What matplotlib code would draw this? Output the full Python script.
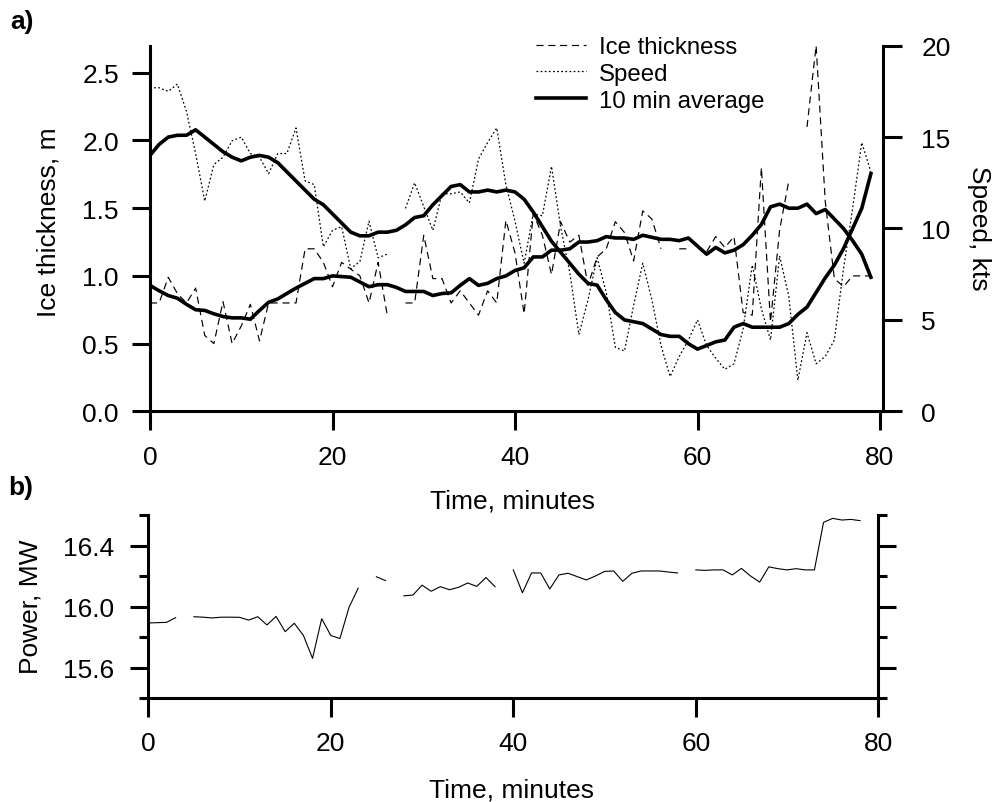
import numpy as np
import matplotlib
matplotlib.use("Agg")
import matplotlib.pyplot as plt
from matplotlib.lines import Line2D

plt.rcParams['font.family'] = ['Liberation Sans', 'DejaVu Sans']

nan = np.nan

# minutes for the ice / speed records and for the power record
minutes = np.arange(80)
minutes_power = np.arange(79)

# raw ice thickness, m (gaps are missing samples)
ice_thickness = [
    0.80, 0.80, 0.99, 0.87, 0.80, 0.91, 0.56, 0.50, 0.81, 0.50,
    0.63, 0.79, 0.52, 0.80, 0.80, 0.80, 0.80, 1.20, 1.20, 1.10,
    0.92, 1.10, 1.05, 1.00, 0.80, 1.10, 0.71, nan, 0.80, 0.80,
    1.30, 0.98, 0.98, 0.80, 0.89, 0.80, 0.71, 0.89, 0.80, 1.41,
    1.17, 0.72, 1.46, 1.30, 1.01, 1.40, 1.25, 1.30, 0.93, 1.14,
    1.20, 1.40, 1.32, 1.11, 1.48, 1.42, 1.20, nan, 1.20, 1.20,
    nan, 1.18, 1.29, 1.21, 1.29, 0.73, 0.71, 1.80, 0.66, 1.34,
    1.70, nan, 2.10, 2.70, 1.55, 0.98, 0.92, 1.00, 1.00, 1.00]

# raw ship speed, kts
speed = [
    17.7, 17.7, 17.5, 17.9, 16.4, 14.1, 11.5, 13.5, 13.9, 14.8,
    15.0, 14.1, 13.9, 13.0, 14.1, 14.1, 15.5, 12.6, 12.4, 9.0,
    9.9, 10.1, 7.8, 8.2, 10.4, 8.4, 8.6, nan, 11.1, 12.5,
    11.2, 9.9, 11.9, 11.9, 12.0, 11.4, 13.8, 14.7, 15.5, 12.4,
    10.4, 8.1, 10.8, 10.7, 13.4, 10.1, 7.6, 4.2, 6.1, 8.4,
    6.5, 3.5, 3.3, 5.8, 8.1, 6.1, 3.6, 1.9, 3.0, 3.9,
    5.0, 3.6, 2.9, 2.3, 2.6, 4.5, 8.0, 5.6, 3.9, 8.5,
    6.3, 1.7, 4.3, 2.6, 3.0, 3.9, 7.8, 11.1, 14.7, 13.1]

# 10 min averages
ice_avg = [
    0.93, 0.89, 0.855, 0.835, 0.79, 0.75, 0.745, 0.72, 0.70, 0.69,
    0.69, 0.68, 0.745, 0.805, 0.83, 0.87, 0.91, 0.945, 0.98, 0.98,
    1.00, 0.995, 0.99, 0.955, 0.92, 0.935, 0.935, 0.915, 0.885, 0.885,
    0.885, 0.855, 0.87, 0.875, 0.93, 0.98, 0.93, 0.945, 0.98, 1.00,
    1.04, 1.06, 1.14, 1.14, 1.19, 1.19, 1.20, 1.25, 1.25, 1.26,
    1.29, 1.28, 1.28, 1.27, 1.30, 1.285, 1.27, 1.27, 1.26, 1.28,
    1.22, 1.16, 1.21, 1.17, 1.19, 1.23, 1.30, 1.38, 1.51, 1.53,
    1.50, 1.50, 1.53, 1.46, 1.49, 1.42, 1.35, 1.26, 1.16, 0.99]

speed_avg = [
    14.0, 14.6, 15.0, 15.1, 15.1, 15.4, 15.0, 14.6, 14.2, 13.9,
    13.7, 13.9, 14.0, 13.9, 13.6, 13.1, 12.6, 12.1, 11.6, 11.3,
    10.8, 10.3, 9.8, 9.6, 9.6, 9.8, 9.8, 9.9, 10.2, 10.6,
    10.7, 11.3, 11.8, 12.3, 12.4, 12.0, 12.0, 12.1, 12.0, 12.1,
    12.0, 11.6, 10.9, 10.1, 9.3, 8.7, 8.1, 7.5, 7.0, 6.9,
    6.1, 5.4, 5.0, 4.9, 4.8, 4.5, 4.2, 4.1, 4.1, 3.7,
    3.4, 3.6, 3.8, 3.9, 4.6, 4.8, 4.6, 4.6, 4.6, 4.6,
    4.8, 5.3, 5.7, 6.5, 7.3, 8.0, 8.9, 10.0, 11.1, 13.0]

# propulsion power, MW
power = [
    15.892, 15.894, 15.896, 15.927, nan, 15.933, 15.930, 15.925, 15.930, 15.930,
    15.929, 15.911, 15.933, 15.879, 15.935, 15.835, 15.890, 15.810, 15.660, 15.920,
    15.810, 15.790, 15.995, 16.120, nan, 16.195, 16.170, nan, 16.070, 16.075,
    16.140, 16.100, 16.130, 16.110, 16.126, 16.154, 16.132, 16.190, 16.130, nan,
    16.240, 16.090, 16.220, 16.220, 16.115, 16.207, 16.218, 16.196, 16.174, 16.200,
    16.230, 16.233, 16.165, 16.218, 16.233, 16.233, 16.233, 16.226, 16.220, nan,
    16.240, 16.237, 16.240, 16.240, 16.207, 16.250, 16.200, 16.160, 16.260, 16.248,
    16.240, 16.248, 16.240, 16.240, 16.552, 16.578, 16.567, 16.571, 16.563]

time_ticks = [0, 20, 40, 60, 80]
ice_ticks = [0.0, 0.5, 1.0, 1.5, 2.0, 2.5]
speed_ticks = [0, 5, 10, 15, 20]
power_major = [15.6, 16.0, 16.4]
power_minor = [15.4, 15.8, 16.2, 16.6]

FS = 19
SPW = 2.2
dash_ice = (0, (6, 4))
dot_speed = (0, (1.4, 1.9))

fig = plt.figure(figsize=(9.99, 8.03), dpi=100)

# ---- panel a ----
ax1 = fig.add_axes([150 / 999, 1 - 412.3 / 803, 733 / 999, 365.6 / 803])
ax2 = ax1.twinx()

ax1.plot(minutes, ice_thickness, color='black', lw=0.85, linestyle=dash_ice)
ax1.plot(minutes, ice_avg, color='black', lw=2.6)
ax2.plot(minutes, speed, color='black', lw=0.9, linestyle=dot_speed)
ax2.plot(minutes, speed_avg, color='black', lw=2.6)

ax1.set_xlim(0, 80 * 733 / 730)
ax1.set_ylim(0, 2.7)
ax2.set_ylim(0, 20)
ax1.set_xticks(time_ticks)
ax1.set_yticks(ice_ticks)
ax1.set_yticklabels([f'{v:.1f}' for v in ice_ticks])
ax2.set_yticks(speed_ticks)

for s in ['top', 'right']:
    ax1.spines[s].set_visible(False)
for s in ['top', 'left', 'bottom']:
    ax2.spines[s].set_visible(False)
ax1.spines['left'].set_linewidth(SPW)
ax1.spines['bottom'].set_linewidth(SPW)
ax2.spines['right'].set_linewidth(SPW)

ax1.tick_params(axis='y', direction='out', length=13, width=SPW, pad=9.5, labelsize=FS)
ax1.tick_params(axis='x', direction='out', length=14, width=SPW, pad=10, labelsize=FS)
ax2.tick_params(axis='y', direction='out', length=13.5, width=SPW, pad=14, labelsize=FS)

ax1.set_ylabel('Ice thickness, m', fontsize=FS)
ax1.yaxis.set_label_coords(-0.1221, 0.52)
ax2.set_ylabel('Speed, kts', fontsize=FS, rotation=270, va='bottom')
ax2.yaxis.set_label_coords(1.1146, 0.503)
ax1.set_xlabel('Time, minutes', fontsize=FS, va='top')
ax1.xaxis.set_label_coords(0.495, -0.2098)

handles = [Line2D([], [], color='black', lw=0.85, linestyle=dash_ice),
           Line2D([], [], color='black', lw=0.9, linestyle=dot_speed),
           Line2D([], [], color='black', lw=2.6)]
fig.legend(handles, ['Ice thickness', 'Speed', '10 min average'],
           loc='upper left', bbox_to_anchor=(536 / 999, 1 - 37 / 803),
           frameon=False, fontsize=17.3, borderpad=0, borderaxespad=0,
           handlelength=2.08, handletextpad=0.55, labelspacing=0.2)

# ---- panel b ----
ax3 = fig.add_axes([148.3 / 999, 1 - 699 / 803, 730 / 999, 183 / 803])
ax3.plot(minutes_power, power, color='black', lw=0.8)
ax3.set_xlim(0, 80)
ax3.set_ylim(15.4, 16.6)
ax3.set_xticks(time_ticks)
ax3.set_yticks(power_major)
ax3.set_yticklabels([f'{v:.1f}' for v in power_major])
ax3.set_yticks(power_minor, minor=True)
ax3.spines['top'].set_visible(False)
for s in ['left', 'right', 'bottom']:
    ax3.spines[s].set_linewidth(SPW)
ax3.tick_params(axis='y', which='major', direction='out', length=13, width=SPW,
                pad=11.5, labelsize=FS, right=True)
ax3.tick_params(axis='y', which='minor', direction='out', length=6.5, width=SPW,
                right=True)
ax3.tick_params(axis='x', direction='out', length=13.5, width=SPW, pad=10, labelsize=FS)

ax3.set_ylabel('Power, MW', fontsize=FS)
ax3.yaxis.set_label_coords(-0.145, 0.505)
ax3.set_xlabel('Time, minutes', fontsize=FS, va='top')
ax3.xaxis.set_label_coords(0.498, -0.432)

fig.text(10 / 999, 1 - 29 / 803, 'a)', fontsize=FS, fontweight='bold', va='baseline')
fig.text(8 / 999, 1 - 495 / 803, 'b)', fontsize=FS, fontweight='bold', va='baseline')

fig.savefig('out.png', dpi=100)
